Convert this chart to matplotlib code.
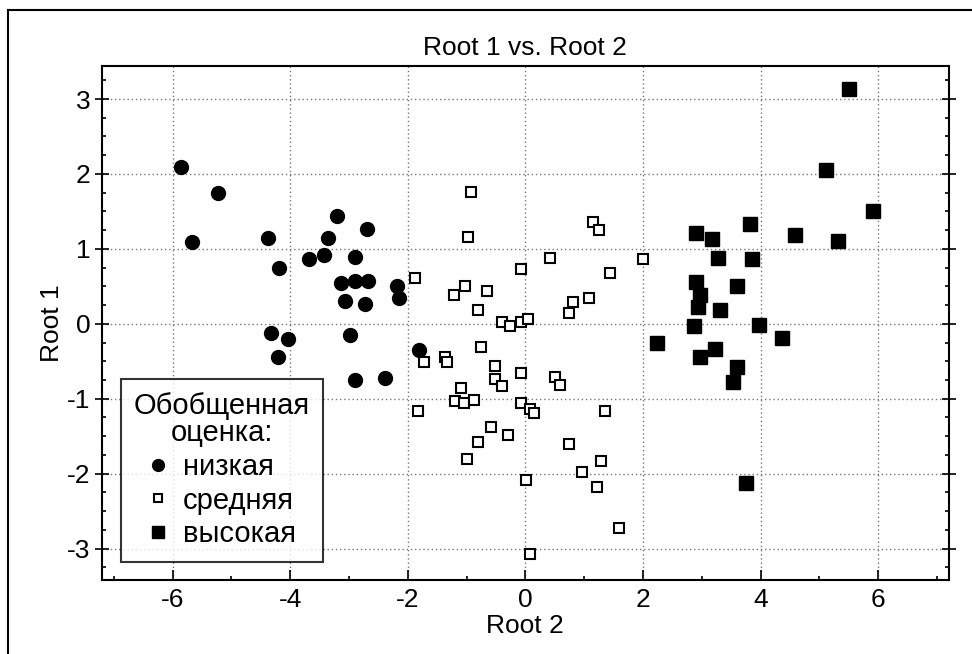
import matplotlib
matplotlib.use("Agg")
import matplotlib.pyplot as plt
from matplotlib.ticker import MultipleLocator
from matplotlib.lines import Line2D

plt.rcParams["font.family"] = ["Liberation Sans", "DejaVu Sans"]
plt.rcParams["axes.unicode_minus"] = False

# низкая (filled circles)
lowX = [-5.86, -5.23, -5.67, -4.37, -4.19, -3.21, -3.36, -2.70, -3.68, -3.42,
        -2.89, -3.14, -2.89, -2.68, -3.07, -2.73, -2.19, -2.15, -4.32, -4.03,
        -4.21, -2.98, -2.89, -2.38, -1.81]
lowY = [2.09, 1.74, 1.09, 1.15, 0.75, 1.44, 1.15, 1.27, 0.87, 0.92,
        0.89, 0.55, 0.57, 0.57, 0.30, 0.27, 0.50, 0.34, -0.12, -0.20,
        -0.44, -0.15, -0.75, -0.72, -0.35]

# средняя (open squares)
midX = [-0.93, -0.98, 1.15, 1.25, 0.42, 2.00, -0.08, 1.44, -1.88, -1.03,
        -1.22, -0.65, -0.81, 0.81, 1.09, 0.74, -0.39, -0.26, -0.08, 0.05,
        -0.75, -1.37, -1.34, -1.73, -0.52, -0.52, -0.39, -0.08, 0.50, 0.59,
        -1.10, -1.19, -1.04, -0.87, -1.82, -0.08, 0.08, 0.14, 1.35, -0.59,
        -0.30, -0.81, -0.99, 0.74, 1.28, 0.96, 1.22, 0.01, 1.60, 0.08]
midY = [1.76, 1.16, 1.36, 1.25, 0.88, 0.86, 0.73, 0.68, 0.61, 0.51,
        0.38, 0.44, 0.18, 0.29, 0.34, 0.14, 0.03, -0.03, 0.02, 0.07,
        -0.31, -0.44, -0.51, -0.51, -0.56, -0.74, -0.83, -0.66, -0.71, -0.81,
        -0.86, -1.03, -1.06, -1.01, -1.16, -1.06, -1.13, -1.19, -1.16, -1.38,
        -1.48, -1.58, -1.80, -1.61, -1.83, -1.98, -2.18, -2.08, -2.73, -3.07]

# высокая (filled squares)
highX = [5.50, 5.11, 5.92, 3.82, 2.90, 3.18, 4.58, 5.31, 3.28, 3.85,
         2.90, 3.60, 2.97, 2.93, 3.31, 2.87, 3.98, 4.36, 2.24, 3.22,
         2.97, 3.60, 3.54, 3.76]
highY = [3.13, 2.05, 1.50, 1.33, 1.21, 1.13, 1.18, 1.11, 0.88, 0.86,
         0.56, 0.50, 0.39, 0.22, 0.18, -0.03, -0.02, -0.19, -0.26, -0.34,
         -0.44, -0.58, -0.78, -2.13]

fig = plt.figure(figsize=(9.72, 6.54), dpi=100)
ax = fig.add_axes([0.105, 0.113, 0.871, 0.786])

ax.plot(lowX, lowY, "o", color="black", markersize=10, label="низкая", zorder=3)
ax.plot(midX, midY, "s", markerfacecolor="white", markeredgecolor="black",
        markeredgewidth=1.5, markersize=7.5, label="средняя", zorder=3)
ax.plot(highX, highY, "s", color="black", markersize=10.5, label="высокая", zorder=3)

ax.set_xlim(-7.2, 7.2)
ax.set_ylim(-3.42, 3.44)
ax.xaxis.set_major_locator(MultipleLocator(2))
ax.xaxis.set_minor_locator(MultipleLocator(1))
ax.yaxis.set_major_locator(MultipleLocator(1))
ax.yaxis.set_minor_locator(MultipleLocator(0.25))
ax.tick_params(axis="x", which="major", direction="in", length=7, width=1.2,
               labelsize=19, pad=6)
ax.tick_params(axis="x", which="minor", direction="in", length=3, width=1.2)
ax.tick_params(axis="y", which="major", direction="inout", length=10, width=1.2,
               labelsize=19, right=True)
ax.tick_params(axis="y", which="minor", direction="in", length=3, width=1.2,
               right=True)
ax.grid(True, which="major", linestyle=(0, (1, 2)), color="#777777", linewidth=1)
for s in ax.spines.values():
    s.set_linewidth(1.5)

ax.set_title("Root 1 vs. Root 2", fontsize=19, pad=8)
ax.set_xlabel("Root 2", fontsize=19, labelpad=1)
ax.set_ylabel("Root 1", fontsize=19, labelpad=2)

leg = ax.legend(title="Обобщенная\nоценка:", loc="lower left",
                bbox_to_anchor=(0.022, 0.036), fontsize=21, title_fontsize=21,
                frameon=True, fancybox=False, edgecolor="black",
                handlelength=0.7, handletextpad=0.5, borderpad=0.45,
                borderaxespad=0, labelspacing=0.2, markerscale=0.85)
leg.get_frame().set_linewidth(1.5)
leg.get_title().set_multialignment("center")
leg.get_title().set_linespacing(0.95)

# outer frame: only top and left edges are visible in the picture
fig.add_artist(Line2D([8 / 972, 8 / 972], [0, 1 - 10 / 654],
                      transform=fig.transFigure, color="black", linewidth=1.5))
fig.add_artist(Line2D([8 / 972, 1], [1 - 10 / 654, 1 - 10 / 654],
                      transform=fig.transFigure, color="black", linewidth=1.5))

fig.savefig("out.png", dpi=100)
